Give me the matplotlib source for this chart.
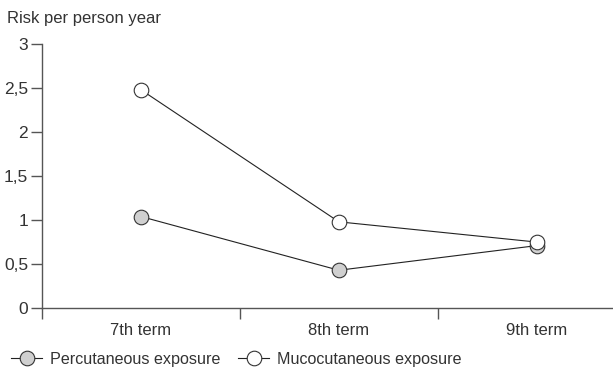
import matplotlib

matplotlib.use("Agg")

import matplotlib.pyplot as plt
from matplotlib.ticker import FixedLocator

plt.rcParams["font.family"] = ["Liberation Sans", "DejaVu Sans"]

terms = ["7th term", "8th term", "9th term"]
percutaneous = [1.04, 0.43, 0.71]
mucocutaneous = [2.48, 0.98, 0.75]
y_ticks = [0, 0.5, 1, 1.5, 2, 2.5, 3]
y_labels = ["0", "0,5", "1", "1,5", "2", "2,5", "3"]

AXIS_COLOR = "#555555"
TEXT_COLOR = "#333333"


def main():
    fig = plt.figure(figsize=(6.13, 3.73), dpi=100)
    ax = fig.add_axes([0.0685, 0.174, 0.9315, 0.708])

    x = list(range(len(terms)))
    ax.plot(x, percutaneous, color="#222222", linewidth=0.8, marker="o",
            markersize=10.5, markerfacecolor="#d0d0d0", markeredgecolor="#333333",
            markeredgewidth=0.8, label="Percutaneous exposure", zorder=3)
    ax.plot(x, mucocutaneous, color="#222222", linewidth=0.8, marker="o",
            markersize=10.5, markerfacecolor="white", markeredgecolor="#333333",
            markeredgewidth=0.8, label="Mucocutaneous exposure", zorder=4)

    ax.set_xlim(-0.5, 2.385)
    ax.set_ylim(0, 3)

    for side in ["top", "right"]:
        ax.spines[side].set_visible(False)
    for side in ["left", "bottom"]:
        ax.spines[side].set_color(AXIS_COLOR)
        ax.spines[side].set_linewidth(1.0)
    ax.spines["left"].set_bounds(0, 3)

    ax.set_yticks(y_ticks)
    ax.set_yticklabels(y_labels)
    ax.tick_params(axis="y", direction="out", length=8, width=1.0,
                   color=AXIS_COLOR, labelsize=12.5, labelcolor=TEXT_COLOR, pad=2)

    ax.set_xticks(x)
    ax.set_xticklabels(terms)
    ax.tick_params(axis="x", which="major", length=0, labelsize=12,
                   labelcolor=TEXT_COLOR, pad=11)
    ax.xaxis.set_minor_locator(FixedLocator([-0.5, 0.5, 1.5]))
    ax.tick_params(axis="x", which="minor", direction="out", length=8,
                   width=1.0, color=AXIS_COLOR)

    fig.text(0.012, 0.95, "Risk per person year", fontsize=12,
             color=TEXT_COLOR, va="center", ha="left")

    fig.legend(loc="lower left", bbox_to_anchor=(-0.005, -0.022), ncol=2,
               frameon=False, fontsize=11.6, handlelength=1.9,
               handletextpad=0.5, columnspacing=1.1, labelcolor=TEXT_COLOR)

    fig.savefig("out.png", dpi=100)
    plt.close(fig)


if __name__ == "__main__":
    main()
